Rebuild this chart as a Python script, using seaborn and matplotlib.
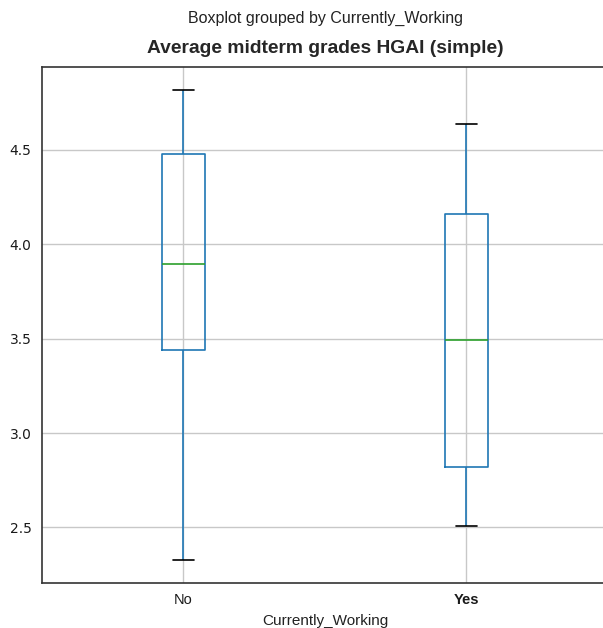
import numpy as np
import pandas as pd
import matplotlib
matplotlib.use("Agg")
import matplotlib.pyplot as plt
import seaborn as sns

# Values (whisker low, Q1, median, Q3, whisker high)
categories = ["No", "Yes"]
no_values = [2.33, 3.44, 3.895, 4.48, 4.815]
yes_values = [2.51, 2.82, 3.495, 4.16, 4.635]
suptitle_text = "Boxplot grouped by Currently_Working"
title_text = "Average midterm grades HGAI (simple)"
xlabel_text = "Currently_Working"

df = pd.DataFrame({
    "Currently_Working": [categories[0]] * len(no_values) + [categories[1]] * len(yes_values),
    "grade": no_values + yes_values,
})

sns.set_style("white")
plt.rcParams["font.family"] = ["Liberation Sans", "DejaVu Sans"]

W, H = 603, 628
fig = plt.figure(figsize=(W / 100, H / 100), dpi=100)
ax = fig.add_axes([42 / W, (H - 583) / H, 566 / W, 516 / H])

sns.boxplot(
    data=df, x="Currently_Working", y="grade", ax=ax,
    order=categories, width=0.15, fill=False, linecolor="#1f77b4",
    linewidth=1.2, whis=1.5, showfliers=False,
    medianprops=dict(color="#2ca02c", linewidth=1.2),
    capprops=dict(color="black", linewidth=1.2),
    whiskerprops=dict(color="#1f77b4", linewidth=1.2),
    boxprops=dict(color="#1f77b4", linewidth=1.2),
    capwidths=0.075,
)

ax.set_xlim(-0.5, 1.5)
ax.grid(True, color="#c8c8c8", linewidth=1.0)
ax.set_axisbelow(True)
for s in ax.spines.values():
    s.set_color("#333333")
    s.set_linewidth(1.2)

ax.set_yticks([2.5, 3.0, 3.5, 4.0, 4.5])
ax.set_yticklabels(["2.5", "3.0", "3.5", "4.0", "4.5"], family="DejaVu Sans", fontsize=10)
ax.tick_params(axis="both", length=4, color="#333333", labelcolor="#1a1a1a")
ax.tick_params(axis="x", labelsize=10.5)
for lbl in ax.get_xticklabels():
    if lbl.get_text() == "Yes":
        lbl.set_fontweight("bold")

ax.set_ylabel("")
ax.set_xlabel(xlabel_text, fontsize=11, color="#222222", labelpad=5)
ax.set_title(title_text, fontsize=13.9, fontweight="bold", pad=10)
fig.suptitle(suptitle_text, fontsize=11.5, x=325 / W, y=1 - 18 / H, va="center", color="#222222")

fig.savefig("out.png", dpi=100)
